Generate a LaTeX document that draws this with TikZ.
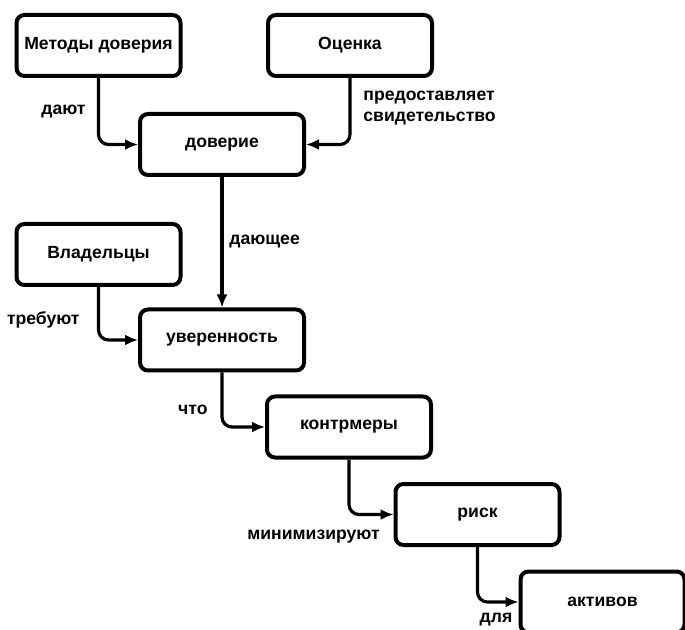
\documentclass[tikz,border=0pt]{standalone}
\usepackage{fontspec}
\setmainfont{Liberation Sans}
\usetikzlibrary{arrows.meta,positioning}

\begin{document}
\begin{tikzpicture}[x=0.5pt,y=-0.5pt,font=\fontsize{8.8}{10.5}\selectfont\bfseries,
  b/.style={draw,line width=2pt,rounded corners=4pt,minimum width=82pt,minimum height=30.5pt,inner sep=0pt},
  lbl/.style={inner sep=1pt,align=left},
  arr/.style={-{Latex[length=6.5pt,width=5.5pt]},line width=1.6pt,rounded corners=5pt}]
  \useasboundingbox (0,0) rectangle (685,630);
  \node[b] (met) at (98.5,45.5) {Методы доверия};
  \node[b] (ots) at (350,45.5) {Оценка};
  \node[b] (dov) at (222,144.5) {доверие};
  \node[b] (vlad) at (98.5,254.5) {Владельцы};
  \node[b] (uver) at (222,340) {уверенность};
  \node[b] (kontr) at (349,427) {контрмеры};
  \node[b] (risk) at (477.5,514.5) {риск};
  \node[b] (akt) at (602.5,602) {активов};
  % labels
  \node[lbl,anchor=east] (l1) at (88,112) {дают};
  \node[lbl,anchor=west] (l2) at (361,108) {предоставляет\\свидетельство};
  \node[lbl,anchor=west] (l3) at (227,242) {дающее};
  \node[lbl,anchor=east] (l4) at (82,320) {требуют};
  \node[lbl,anchor=east] (l5) at (210,410) {что};
  \node[lbl,anchor=east] (l6) at (382,537) {минимизируют};
  \node[lbl] (l7) at (496,620) {для};
  \draw[arr] (met.south) |- (dov.west);
  \draw[arr] (ots.south) |- (dov.east);
  \draw[arr] (dov) -- (uver);
  \draw[arr] (vlad.south) |- (uver.west);
  \draw[arr] (uver.south) |- (kontr.west);
  \draw[arr] (kontr.south) |- (risk.west);
  \draw[arr] (risk.south) |- (akt.west);
\end{tikzpicture}
\end{document}
